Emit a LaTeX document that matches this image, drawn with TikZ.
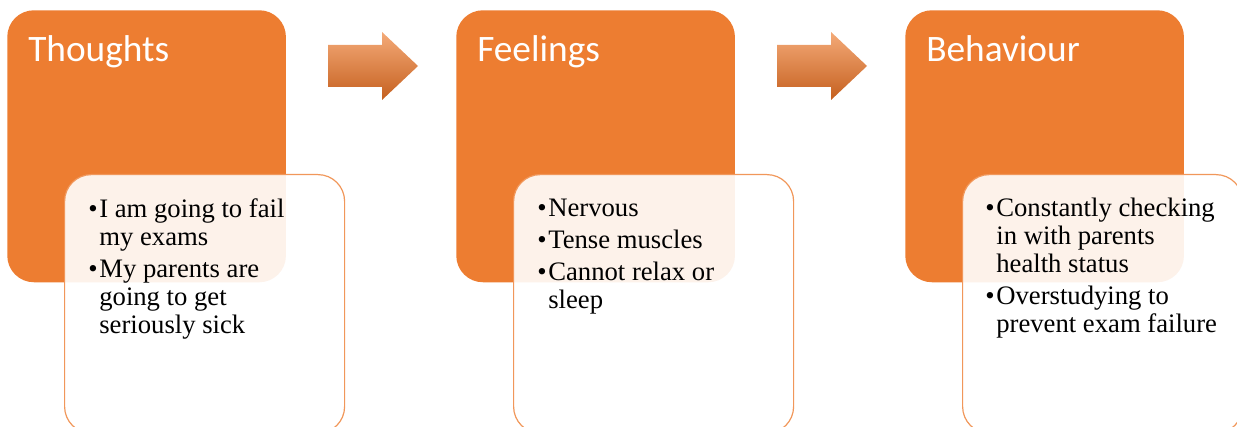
\documentclass[tikz,border=0pt]{standalone}
\usepackage{fontspec}
\setmainfont{Liberation Serif}
\newfontfamily\bodyfont{Liberation Serif}
\newfontfamily\titlefont{Carlito}
\usetikzlibrary{positioning}
\definecolor{boxorange}{HTML}{ED7D31}
\definecolor{arrowlight}{HTML}{F4AA78}
\definecolor{arrowdark}{HTML}{C5601F}
\newcommand{\bul}{\makebox[8.3pt][l]{\textbullet}}

\begin{document}
\begin{tikzpicture}[x=0.75pt,y=-0.75pt,
  headbox/.style={fill=boxorange,rounded corners=20pt,minimum width=209pt,minimum height=204pt,anchor=north west,inner sep=0},
  listbox/.style={draw=boxorange!80,line width=0.9pt,fill=white,fill opacity=0.9,rounded corners=20pt,minimum width=210pt,minimum height=194pt,anchor=north west,inner sep=0},
  titletext/.style={text=white,font=\titlefont\fontsize{28}{30}\selectfont,anchor=base west,inner sep=0},
  itemlist/.style={font=\bodyfont\fontsize{20}{21}\selectfont,anchor=base west,inner sep=0}]
\useasboundingbox (0,0) rectangle (1237,427);

% orange heading boxes
\node[headbox] (thoughts) at (7,10) {};
\node[headbox] (feelings) at (456,10) {};
\node[headbox] (behaviour) at (905,10) {};

\node[titletext] (thoughtsT) at (28,62) {Thoughts};
\node[titletext] (feelingsT) at (477,62) {Feelings};
\node[titletext] (behaviourT) at (926,62) {Behaviour};

% list boxes on top
\node[listbox] (thoughtsL) at (64,174) {};
\node[listbox] (feelingsL) at (513,174) {};
\node[listbox] (behaviourL) at (962,174) {};

\node[itemlist] (thoughtsI) at (88,218) {\begin{tabular}[t]{@{}l@{}l@{}}
\bul & I am going to fail\\
     & my exams\\[3pt]
\bul & My parents are\\
     & going to get\\
     & seriously sick
\end{tabular}};
\node[itemlist] (feelingsI) at (537,217) {\begin{tabular}[t]{@{}l@{}l@{}}
\bul & Nervous\\[3pt]
\bul & Tense muscles\\[3pt]
\bul & Cannot relax or\\
     & sleep
\end{tabular}};
\node[itemlist] (behaviourI) at (985,217) {\begin{tabular}[t]{@{}l@{}l@{}}
\bul & Constantly checking\\
     & in with parents\\
     & health status\\[3pt]
\bul & Overstudying to\\
     & prevent exam failure
\end{tabular}};

% block arrows
\foreach \dx in {0,449}
  \shade[top color=arrowlight,middle color=boxorange,bottom color=arrowdark,xshift=\dx*0.75pt]
    (328,45) -- (382,45) -- (382,32) -- (418,66) -- (382,100) -- (382,87) -- (328,87) -- cycle;
\end{tikzpicture}
\end{document}
